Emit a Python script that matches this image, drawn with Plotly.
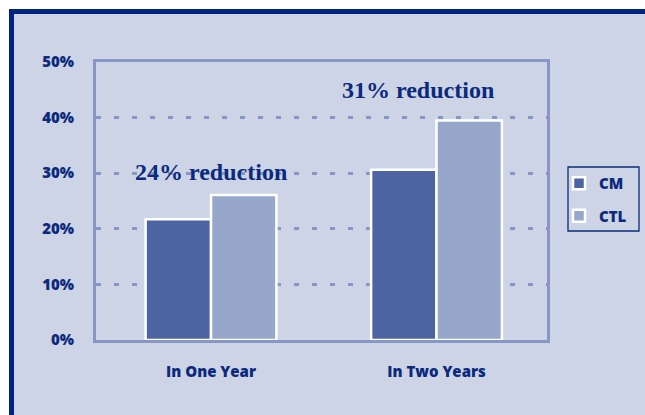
import plotly.graph_objects as go

# Share of patients, by follow-up period
periods = ["In One Year", "In Two Years"]
cm_values = [21.7, 30.6]
ctl_values = [26.1, 39.5]
reduction_labels = ["24% reduction", "31% reduction"]
y_ticks = [0, 10, 20, 30, 40, 50]
y_tick_labels = ["0%", "10%", "20%", "30%", "40%", "50%"]

NAVY = "#0B2A7F"
PANEL = "#CDD4E5"
FRAME = "#8796C6"
CM_COLOR = "#4C64A2"
CTL_COLOR = "#97A6CB"

W, H = 645, 415
L, R, T, B = 96, 98, 62, 75
pw, ph = W - L - R, H - T - B


def px_x(x):
    return (x - L) / pw


def px_y(y):
    return (H - B - y) / ph


fig = go.Figure()
fig.add_trace(go.Bar(
    x=periods, y=cm_values, name="CM", legendgroup="cm",
    marker=dict(color=CM_COLOR, line=dict(color="white", width=2.5)),
))
fig.add_trace(go.Bar(
    x=periods, y=ctl_values, name="CTL", legendgroup="ctl",
    marker=dict(color=CTL_COLOR, line=dict(color="white", width=2.5)),
))

# Reduction notes above each pair of bars
note_pos = [(0.0, 30.2), (0.92, 44.9)]
for (xp, yp), label in zip(note_pos, reduction_labels):
    fig.add_annotation(
        x=xp, y=yp, xref="x", yref="y", text=label, showarrow=False,
        font=dict(family="Liberation Serif", size=24, color=NAVY, weight="bold"),
    )

# Panel with a navy frame along its top and left edges
fig.add_shape(
    type="rect", xref="paper", yref="paper", layer="below",
    x0=px_x(11.5), x1=px_x(900), y0=px_y(11.5), y1=px_y(900),
    fillcolor=PANEL, line=dict(color="#00247F", width=5),
)

# Frame around the legend
fig.add_shape(
    type="rect", xref="paper", yref="paper", layer="above",
    x0=px_x(568), x1=px_x(639), y0=px_y(167), y1=px_y(231),
    fillcolor="rgba(0,0,0,0)", line=dict(color=NAVY, width=1.3),
)

fig.update_layout(
    width=W, height=H,
    margin=dict(l=L, r=R, t=T, b=B, pad=0, autoexpand=False),
    paper_bgcolor="white",
    plot_bgcolor="rgba(0,0,0,0)",
    barmode="group",
    bargap=0.42,
    bargroupgap=0,
    font=dict(family="Open Sans", color=NAVY),
    showlegend=True,
    legend=dict(
        xref="container", yref="container",
        x=559 / W, y=1 - 167 / H, xanchor="left", yanchor="top",
        bgcolor="rgba(0,0,0,0)", borderwidth=0,
        font=dict(family="Open Sans", size=15, color=NAVY, weight=800),
        traceorder="grouped", tracegroupgap=10,
        itemwidth=30,
    ),
)

tick_font = dict(family="Open Sans", size=15, color=NAVY, weight=800)

fig.update_xaxes(
    range=[-0.51, 1.49],
    showline=True, linecolor=FRAME, linewidth=3, mirror=True,
    showgrid=False, ticks="",
    ticklabelstandoff=16,
    tickfont=tick_font,
)
fig.update_yaxes(
    range=[0, 50],
    tickvals=y_ticks, ticktext=y_tick_labels,
    showline=True, linecolor=FRAME, linewidth=3, mirror=True,
    showgrid=True, gridcolor=FRAME, gridwidth=3, griddash="5px,13px",
    zeroline=False, ticks="",
    ticklabelstandoff=16,
    tickfont=tick_font,
)

fig.write_html("out.html")
